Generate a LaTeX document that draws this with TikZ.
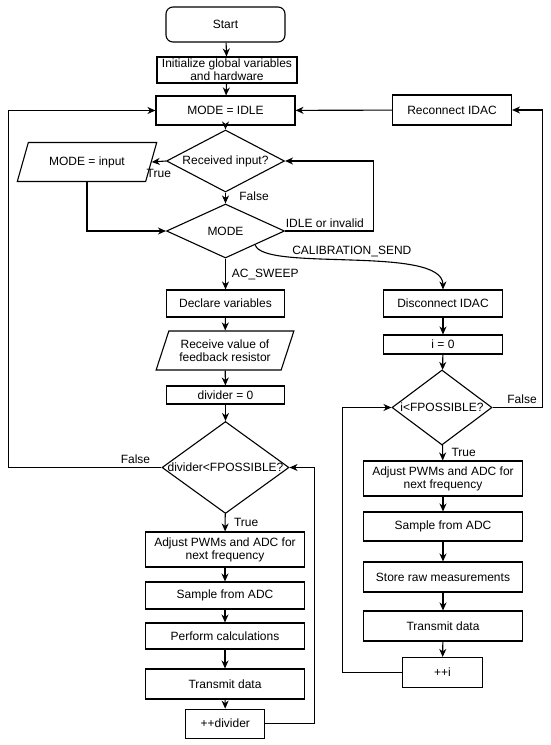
\documentclass[tikz,border=0pt]{standalone}
\usepackage{fontspec}
\setmainfont{Liberation Sans}
\usepackage{tikz}
\usetikzlibrary{shapes.geometric, arrows.meta}

\begin{document}
\begin{tikzpicture}[
        x=1pt, y=-1pt,
        >={Stealth[length=8pt, width=7pt, inset=2.5pt]},
        line width=1.1pt,
        font=\fontsize{12}{13}\selectfont,
        terminal/.style={rectangle, draw, rounded corners=7pt, align=center, minimum width=119pt, minimum height=35pt},
        block/.style={rectangle, draw, align=center, inner sep=1pt},
        io/.style={trapezium, draw, align=center, trapezium stretches=true, inner sep=1pt},
        decision/.style={diamond, draw, align=center, inner sep=0pt}
    ]
    \useasboundingbox (0,0) rectangle (550,745);

    % --- Start and idle state ---
    \node (start) [terminal] at (225.5,24.5) {Start};
    \node (init) [block, minimum width=140pt, minimum height=26pt] at (227,70) {Initialize global variables\\and hardware};
    \node (idle) [block, minimum width=139pt, minimum height=29pt] at (225.5,110.5) {MODE = IDLE};
    \node (reconnect) [block, minimum width=119pt, minimum height=30pt] at (452,110) {Reconnect IDAC};

    % --- Input and mode selection ---
    \node (recv) [decision, shape aspect=1.75, minimum width=118pt, minimum height=62pt] at (225.5,161) {Received input?};
    \node (minput) [io, trapezium left angle=61, trapezium right angle=119, minimum width=140pt, minimum height=39pt] at (87,162) {MODE = input};
    \node (mode) [decision, shape aspect=2, minimum width=118pt, minimum height=54pt] at (225.5,231) {MODE};

    % --- AC sweep branch ---
    \node (declare) [block, minimum width=118pt, minimum height=27pt] at (225.5,303.5) {Declare variables};
    \node (feedback) [io, trapezium left angle=66, trapezium right angle=114, minimum width=138pt, minimum height=39pt] at (225,350.5) {Receive value of\\feedback resistor};
    \node (divzero) [block, minimum width=118pt, minimum height=18pt] at (225.5,395) {divider = 0};
    \node (divcheck) [decision, shape aspect=1.4, inner xsep=-4pt, minimum width=127pt, minimum height=92pt] at (225.5,467.5) {divider<FPOSSIBLE?};
    \node (adjustL) [block, minimum width=159pt, minimum height=35pt] at (225,549.5) {Adjust PWMs and ADC for\\next frequency};
    \node (sampleL) [block, minimum width=159pt, minimum height=27pt] at (225,595.5) {Sample from ADC};
    \node (calc) [block, minimum width=159pt, minimum height=26pt] at (225,636) {Perform calculations};
    \node (sendL) [block, minimum width=159pt, minimum height=30pt] at (225,684) {Transmit data};
    \node (incdiv) [block, minimum width=79pt, minimum height=29pt] at (225.3,723.7) {++divider};

    % --- Calibration branch ---
    \node (disconnect) [block, minimum width=119pt, minimum height=27pt] at (443,303.5) {Disconnect IDAC};
    \node (izero) [block, minimum width=119pt, minimum height=19pt] at (443,344.5) {i = 0};
    \node (icheck) [decision, shape aspect=1.3, inner xsep=-2pt, minimum width=100pt, minimum height=75pt] at (442,407.5) {i<FPOSSIBLE?};
    \node (adjustR) [block, minimum width=159pt, minimum height=35pt] at (443,478.5) {Adjust PWMs and ADC for\\next frequency};
    \node (sampleR) [block, minimum width=159pt, minimum height=29pt] at (443,526.5) {Sample from ADC};
    \node (store) [block, minimum width=159pt, minimum height=30pt] at (443,577) {Store raw measurements};
    \node (sendR) [block, minimum width=159pt, minimum height=30pt] at (443,626) {Transmit data};
    \node (inci) [block, minimum width=80pt, minimum height=30pt] at (442.5,672.5) {++i};

    % --- Main paths ---
    \draw[->] (start) -- (init);
    \draw[->] (init) -- (idle);
    \draw[->] (idle) -- (recv);
    \draw[->] (recv.west) -- node[below=4pt] {True} (minput.east);
    \draw[->] (recv) -- node[right=10pt, pos=0.3] {False} (mode);
    \draw[->] (minput.south) |- (mode.west);
    \draw[->] (mode.east) -- node[above, pos=0.45] {IDLE or invalid} ++(88.5,0) |- (recv.east);
    \draw[->] (mode) -- node[right=2.5pt] {AC\_SWEEP} (declare);
    \draw[->] (mode.-25) .. controls (263,272) and (442.5,245) .. (disconnect.north)
        node[above, pos=0.5] {CALIBRATION\_SEND};

    % --- Sweep loop ---
    \draw[->] (declare) -- (feedback);
    \draw[->] (feedback) -- (divzero);
    \draw[->] (divzero) -- (divcheck);
    \draw[->] (divcheck) -- node[right=5pt] {True} (adjustL);
    \draw[->] (adjustL) -- (sampleL);
    \draw[->] (sampleL) -- (calc);
    \draw[->] (calc) -- (sendL);
    \draw[->] (sendL) -- (incdiv);
    \draw[->] (incdiv.east) -- ++(49,0) |- (divcheck.east);
    \draw[->] (divcheck.west) -- node[above, pos=0.17] {False} ++(-153,0) |- (idle.west);

    % --- Calibration loop ---
    \draw[->] (disconnect) -- (izero);
    \draw[->] (izero) -- (icheck);
    \draw[->] (icheck) -- node[right=5pt] {True} (adjustR);
    \draw[->] (adjustR) -- (sampleR);
    \draw[->] (sampleR) -- (store);
    \draw[->] (store) -- (sendR);
    \draw[->] (sendR) -- (inci);
    \draw[->] (inci.west) -- ++(-59.5,0) |- (icheck.west);
    \draw[->] (icheck.east) -- node[above, pos=0.59] {False} ++(50,0) |- (reconnect.east);
    \draw[->] (reconnect) -- (idle);

\end{tikzpicture}
\end{document}
